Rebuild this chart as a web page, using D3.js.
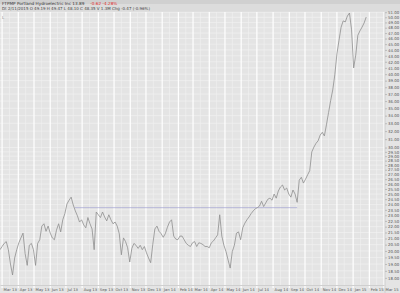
<!DOCTYPE html>
<html>
<head>
<meta charset="utf-8">
<script src="https://cdn.jsdelivr.net/npm/d3@7"></script>
<style>
  body { margin: 0; background: #e4e4e4; }
  svg text { font-family: "DejaVu Sans", sans-serif; }
</style>
</head>
<body>
<div id="chart"></div>
<script>
// price closes, one every 4 calendar days from Feb 25 2013
var startDate = new Date(2013, 1, 25);
var stepDays  = 4;
var closes = [
  20.1, 20.35, 20.6, 20.75, 20.1, 19.0, 18.2, 19.45, 20.1, 20.65,
  21.05, 21.45, 19.8, 18.9, 20.45, 20.6, 20.1, 18.9, 20.6, 20.9,
  22.05, 22.25, 21.6, 22.05, 21.45, 21.05, 20.9, 21.7, 22.25, 21.55,
  22.6, 23.15, 24.05, 24.4, 24.7, 23.95, 23.4, 22.95, 22.4, 22.6,
  22.15, 21.9, 22.8, 22.25, 21.8, 20.1, 23.3, 23.05, 22.8, 23.3,
  22.85, 22.5, 23.05, 22.6, 22.25, 22.4, 22.05, 21.4, 19.7, 21.05,
  20.75, 20.25, 19.15, 20.2, 20.6, 20.45, 20.2, 20.45, 20.1, 20.35,
  19.85, 19.45, 19.1, 20.5, 21.8, 22.05, 21.6, 21.4, 21.1, 21.4,
  21.95, 22.4, 22.6, 21.2, 20.95, 20.9, 21.2, 21.2, 20.9, 20.6,
  20.45, 20.35, 20.65, 20.75, 20.35, 20.65, 20.6, 20.5, 20.35, 20.35,
  20.25, 20.65, 20.8, 21.05, 21.3, 23.05, 21.2, 20.45, 19.95, 19.3,
  18.7, 19.95, 20.45, 21.45, 21.55, 20.9, 21.9, 22.3, 22.6, 22.85,
  23.15, 23.4, 23.6, 23.7, 23.85, 24.3, 23.8, 24.15, 24.5, 24.6,
  24.4, 25.0, 24.6, 25.3, 25.7, 25.9, 25.4, 25.6, 25.0, 24.7,
  25.4, 25.0, 24.2, 26.4, 26.7, 26.1, 26.5, 26.95, 27.4, 29.5,
  30.05, 30.5, 30.8, 31.5, 31.85, 31.4, 32.8, 34.4, 36.05, 37.6,
  39.9, 43.3, 45.7, 48.1, 49.3, 49.1, 50.25, 50.85, 47.6, 41.0,
  43.1, 46.6, 47.4, 48.1, 48.9, 50.05
];

// support line drawn on the chart
var levelDates  = [new Date(2013, 6, 18), new Date(2014, 8, 16)];
var levelValues = [23.7, 23.7];

// right axis tick labels
var priceTicks = [
  18, 18.5, 19, 19.5, 20, 20.5, 21, 21.5, 22, 22.5, 23, 23.5, 24, 24.5,
  25, 25.5, 26, 26.5, 27, 27.5, 28, 28.5, 29, 29.5, 30,
  31, 32, 33, 34, 35, 36, 37, 38, 39, 40, 41, 42, 43, 44, 45, 46, 47,
  48, 49, 50, 51
];

var titleMain  = "FTPMP Portland Hydroelectric Inc  13.89";
var titleChg   = "-0.62   -4.28%";
var titleLine2 = "Dt 2/11/2015  O 49.19  H 49.47  L 48.10  C 48.35  V 1.3M  Chg -0.47 (-0.96%)";

var width  = 400;
var height = 293;
var margin = {top: 12, right: 15, bottom: 8, left: 0};
var plotW  = width - margin.left - margin.right;
var plotH  = height - margin.top - margin.bottom;

var svg = d3.select("#chart").append("svg")
    .attr("width", width)
    .attr("height", height);

svg.append("rect")
    .attr("width", width).attr("height", height)
    .attr("fill", "#e4e4e4");

///////////////
/// Header ///
///////////////
svg.append("rect")
    .attr("width", width).attr("height", margin.top)
    .attr("fill", "#dcdcdc");
svg.append("rect")
    .attr("width", width).attr("height", 4)
    .attr("fill", "#d0d0d0");

var t1 = svg.append("text")
    .attr("x", 2).attr("y", 4.6)
    .attr("font-size", 4.2)
    .attr("fill", "#333");
t1.append("tspan").text(titleMain);
t1.append("tspan").attr("dx", 6).attr("fill", "#e0261e").text(titleChg);

svg.append("text")
    .attr("x", 2).attr("y", 10)
    .attr("font-size", 4)
    .attr("fill", "#444")
    .text(titleLine2);

var g = svg.append("g")
    .attr("transform", "translate(" + margin.left + "," + margin.top + ")");

//////////////
/// Scales ///
//////////////
var x = d3.scaleTime()
    .domain([new Date(2013, 1, 25), new Date(2015, 2, 1)])
    .range([0, plotW - 1]);

var y = d3.scaleLog()
    .domain([17.5, 51.05])
    .range([plotH, 0]);

var dates = closes.map(function (c, i) {
    return d3.timeDay.offset(startDate, i * stepDays);
});

////////////
/// Grid ///
////////////
g.append("rect")
    .attr("width", plotW).attr("height", plotH)
    .attr("fill", "#e4e4e4");

var grid = g.append("g");

grid.selectAll("line.h")
    .data(priceTicks)
    .enter().append("line")
    .attr("class", "h")
    .attr("x1", 0).attr("x2", plotW)
    .attr("y1", function (d) { return y(d); })
    .attr("y2", function (d) { return y(d); })
    .attr("stroke", "#f3f3f3")
    .attr("stroke-width", 0.6);

var months = x.ticks(d3.timeMonth.every(1));
var halfMonths = months.map(function (m) { return new Date(m.getFullYear(), m.getMonth(), 15); })
    .filter(function (d) { return x(d) < plotW; });

grid.selectAll("line.vm")
    .data(halfMonths)
    .enter().append("line")
    .attr("class", "vm")
    .attr("x1", function (d) { return x(d); })
    .attr("x2", function (d) { return x(d); })
    .attr("y1", 0).attr("y2", plotH)
    .attr("stroke", "#f1f1f1")
    .attr("stroke-width", 0.6);

grid.selectAll("line.v")
    .data(months.filter(function (d) { return x(d) < plotW; }))
    .enter().append("line")
    .attr("class", "v")
    .attr("x1", function (d) { return x(d); })
    .attr("x2", function (d) { return x(d); })
    .attr("y1", 0).attr("y2", plotH + 3)
    .attr("stroke", "#ffffff")
    .attr("stroke-width", 1.2);

// right axis border
g.append("line")
    .attr("x1", plotW).attr("x2", plotW)
    .attr("y1", 0).attr("y2", plotH + 8)
    .attr("stroke", "#c8c8c8")
    .attr("stroke-width", 0.8);

////////////
/// Axes ///
////////////
var yAxis = g.append("g")
    .attr("transform", "translate(" + plotW + ",0)")
    .call(d3.axisRight(y).tickValues(priceTicks).tickFormat(d3.format(".2f")).tickSize(2));
yAxis.select(".domain").remove();
yAxis.selectAll("line").attr("stroke", "#bbb");
yAxis.selectAll("text")
    .attr("x", 3)
    .attr("font-size", 3.9)
    .attr("font-family", "DejaVu Sans")
    .attr("fill", "#555");

var xAxis = g.append("g")
    .attr("transform", "translate(0," + plotH + ")")
    .call(d3.axisBottom(x).ticks(d3.timeMonth.every(1)).tickFormat(d3.timeFormat("%b %y")).tickSize(0));
xAxis.select(".domain").attr("stroke", "#cfcfcf");
xAxis.selectAll("text")
    .attr("text-anchor", "start")
    .attr("x", 1)
    .attr("y", 3)
    .attr("font-size", 3.8)
    .attr("font-family", "DejaVu Sans")
    .attr("fill", "#555");

//////////////
/// Series ///
//////////////
var clip = g.append("defs").append("clipPath")
    .attr("id", "clip")
    .append("rect")
    .attr("width", plotW).attr("height", plotH);

var plot = g.append("g").attr("clip-path", "url(#clip)");

plot.append("path")
    .datum(levelDates.map(function (d, i) { return {date: d, value: levelValues[i]}; }))
    .attr("fill", "none")
    .attr("stroke", "#a4a4d4")
    .attr("stroke-width", 0.7)
    .attr("d", d3.line()
        .x(function (d) { return x(d.date); })
        .y(function (d) { return y(d.value); }));

plot.append("path")
    .datum(closes)
    .attr("fill", "none")
    .attr("stroke", "#8e8e8e")
    .attr("stroke-width", 0.8)
    .attr("d", d3.line()
        .x(function (d, i) { return x(dates[i]); })
        .y(function (d) { return y(d); }));

// small marker in the top-left corner
g.append("text")
    .attr("x", 2).attr("y", 7)
    .attr("font-size", 4)
    .attr("fill", "#888")
    .text("L");
</script>
</body>
</html>
